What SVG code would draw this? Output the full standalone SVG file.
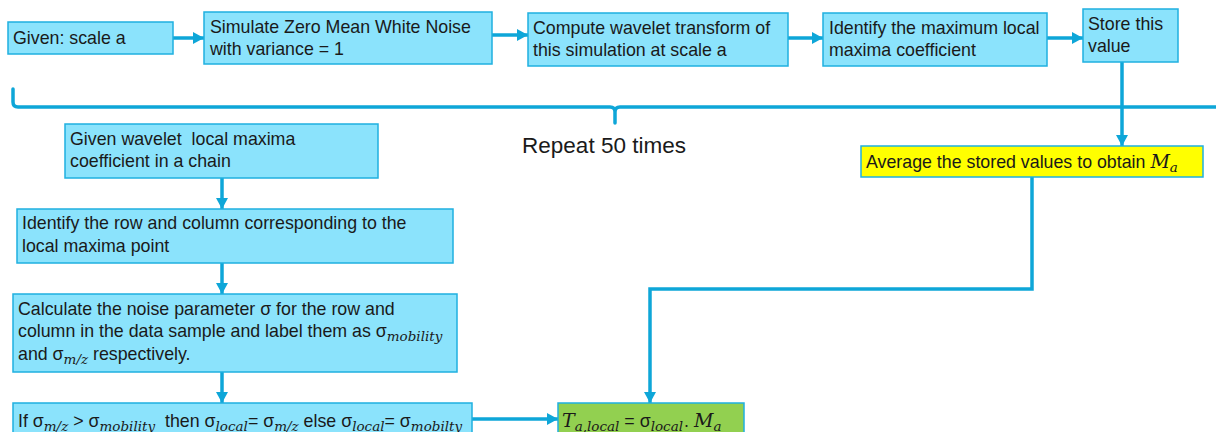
<svg xmlns="http://www.w3.org/2000/svg" width="1216" height="432" viewBox="0 0 1216 432">
  <style>
    .box { fill: #8be3fc; stroke: #1fb0e0; stroke-width: 1.5; }
    .yellow { fill: #ffff00; stroke: #1fb0e0; stroke-width: 1.5; }
    .green { fill: #92d050; stroke: #1fb0e0; stroke-width: 1.5; }
    .t { font-family: "Liberation Sans", Arial, sans-serif; font-size: 17.8px; fill: #1a1a1a; }
    .big { font-family: "Liberation Sans", Arial, sans-serif; font-size: 22.5px; fill: #1a1a1a; }
    .m { font-family: "DejaVu Serif", "Liberation Serif", serif; font-style: italic; font-size: 19px; }
    .sub { font-family: "DejaVu Serif", "Liberation Serif", serif; font-style: italic; font-size: 13.5px; }
    .link { fill: none; stroke: #0ea6d8; stroke-width: 3.5; marker-end: url(#head); }
    .brace { fill: none; stroke: #0ea6d8; stroke-width: 3.5; stroke-linecap: round; }
  </style>
  <defs>
    <marker id="head" markerUnits="userSpaceOnUse" markerWidth="12" markerHeight="12" refX="11" refY="6" orient="auto">
      <path d="M0,0 L11,6 L0,12 z" fill="#0ea6d8"/>
    </marker>
  </defs>

  <rect width="1216" height="432" fill="#ffffff"/>

  <!-- loop bracket -->
  <g id="loop">
    <path class="brace" d="M13,89 V102 Q13,107 18,107 H610 Q615,107 615,112 V123 M615,112 Q615,107 620,107 H1222"/>
    <text class="big" x="604" y="153" text-anchor="middle">Repeat 50 times</text>
  </g>

  <!-- connectors -->
  <g id="connectors">
    <path class="link" d="M173,38 H204"/>
    <path class="link" d="M492,35 H528"/>
    <path class="link" d="M788,38 H823"/>
    <path class="link" d="M1047,38 H1083"/>
    <path class="link" d="M1122,62 V146"/>
    <path class="link" d="M1032,177 V289 H650 V403"/>
    <path class="link" d="M222,178 V209"/>
    <path class="link" d="M222,263 V294"/>
    <path class="link" d="M222,372 V403"/>
    <path class="link" d="M472,419 H558"/>
  </g>

  <g id="given-scale">
    <rect class="box" x="8" y="22" width="165" height="32"/>
    <text class="t" x="13" y="44">Given: scale a</text>
  </g>

  <g id="simulate-noise">
    <rect class="box" x="204" y="12" width="288" height="52"/>
    <text class="t" x="210" y="33">Simulate Zero Mean White Noise</text>
    <text class="t" x="210" y="55">with variance = 1</text>
  </g>

  <g id="wavelet-transform">
    <rect class="box" x="528" y="13" width="260" height="53"/>
    <text class="t" x="533" y="34">Compute wavelet transform of</text>
    <text class="t" x="533" y="56">this simulation at scale a</text>
  </g>

  <g id="max-coefficient">
    <rect class="box" x="823" y="13" width="224" height="53"/>
    <text class="t" x="829" y="34">Identify the maximum local</text>
    <text class="t" x="829" y="56">maxima coefficient</text>
  </g>

  <g id="store-value">
    <rect class="box" x="1083" y="9" width="95" height="53"/>
    <text class="t" x="1088" y="30">Store this</text>
    <text class="t" x="1088" y="52">value</text>
  </g>

  <g id="average">
    <rect class="yellow" x="861" y="146" width="342" height="31"/>
    <text class="t" x="866" y="168">Average the stored values to obtain <tspan class="m">M</tspan><tspan class="sub" dy="4">a</tspan></text>
  </g>

  <g id="given-chain">
    <rect class="box" x="65" y="124" width="313" height="54"/>
    <text class="t" x="70" y="145" xml:space="preserve">Given wavelet  local maxima</text>
    <text class="t" x="70" y="167">coefficient in a chain</text>
  </g>

  <g id="row-column">
    <rect class="box" x="17" y="209" width="436" height="54"/>
    <text class="t" x="22" y="229">Identify the row and column corresponding to the</text>
    <text class="t" x="22" y="252">local maxima point</text>
  </g>

  <g id="noise-parameter">
    <rect class="box" x="13" y="294" width="444" height="78"/>
    <text class="t" x="18" y="315">Calculate the noise parameter σ for the row and</text>
    <text class="t" x="18" y="337">column in the data sample and label them as σ<tspan class="sub" dy="4">mobility</tspan></text>
    <text class="t" x="18" y="360">and σ<tspan class="sub" dy="4">m/z</tspan><tspan dy="-4"> respectively.</tspan></text>
  </g>

  <g id="sigma-local">
    <rect class="box" x="13" y="403" width="459" height="40"/>
    <text class="t" x="18" y="427" xml:space="preserve">If σ<tspan class="sub" dy="4">m/z</tspan><tspan dy="-4"> &gt; σ</tspan><tspan class="sub" dy="4">mobility</tspan><tspan dy="-4">  then σ</tspan><tspan class="sub" dy="4">local</tspan><tspan dy="-4">= σ</tspan><tspan class="sub" dy="4">m/z</tspan><tspan dy="-4"> else σ</tspan><tspan class="sub" dy="4">local</tspan><tspan dy="-4">= σ</tspan><tspan class="sub" dy="4">mobilty</tspan></text>
  </g>

  <g id="threshold">
    <rect class="green" x="558" y="403" width="186" height="40"/>
    <text class="t" x="562" y="427" xml:space="preserve"><tspan class="m" font-size="20">T</tspan><tspan class="sub" dy="4">a,local</tspan><tspan dy="-4"> = σ</tspan><tspan class="sub" dy="4">local</tspan><tspan dy="-4" dx="1">. </tspan><tspan class="m">M</tspan><tspan class="sub" dy="4">a</tspan></text>
  </g>
</svg>
